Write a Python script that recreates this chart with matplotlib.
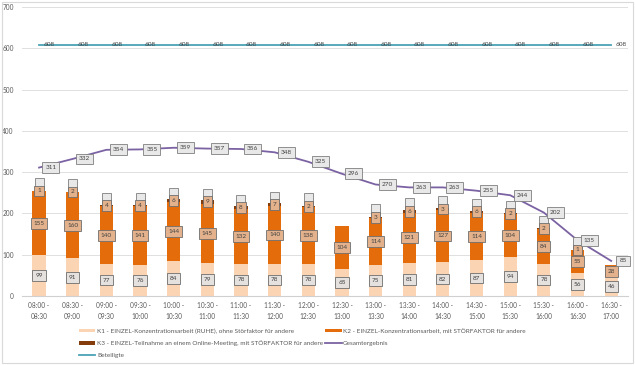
import matplotlib.pyplot as plt
import numpy as np

plt.rcParams["font.family"] = ["Lato", "DejaVu Sans"]

slots = [
    "08:00 -\n08:30", "08:30 -\n09:00", "09:00 -\n09:30", "09:30 -\n10:00",
    "10:00 -\n10:30", "10:30 -\n11:00", "11:00 -\n11:30", "11:30 -\n12:00",
    "12:00 -\n12:30", "12:30 -\n13:00", "13:00 -\n13:30", "13:30 -\n14:00",
    "14:00 -\n14:30", "14:30 -\n15:00", "15:00 -\n15:30", "15:30 -\n16:00",
    "16:00 -\n16:30", "16:30 -\n17:00",
]
k1 = [99, 91, 77, 76, 84, 79, 78, 78, 78, 65, 75, 81, 82, 87, 94, 78, 56, 46]
k2 = [155, 160, 140, 141, 144, 145, 132, 140, 138, 104, 114, 121, 127, 114, 104, 84, 55, 28]
k3 = [1, 2, 4, 4, 6, 9, 8, 7, 2, 0, 3, 6, 3, 6, 2, 2, 1, 0]
gesamt = [311, 332, 354, 355, 359, 357, 356, 348, 325, 296, 270, 263, 263, 255, 244, 202, 135, 85]
beteiligte = [608] * 18

c_k1 = "#FBD4B4"
c_k2 = "#E46C0A"
c_k3 = "#843C0C"
c_ges = "#7B62A3"
c_bet = "#4BA3B5"

fig = plt.figure(figsize=(6.35, 3.65), dpi=100)
ax = fig.add_axes([0.035, 0.189, 0.954, 0.792])

x = np.arange(len(slots))
k1a = np.array(k1)
k2a = np.array(k2)
k3a = np.array(k3)
w = 0.39

ax.bar(x, k1a, w, color=c_k1, zorder=2,
       label="K1 - EINZEL-Konzentrationsarbeit (RUHE), ohne Störfaktor für andere")
ax.bar(x, k2a, w, bottom=k1a, color=c_k2, zorder=2,
       label="K2 - EINZEL-Konzentrationsarbeit, mit STÖRFAKTOR für andere")
ax.bar(x, k3a, w, bottom=k1a + k2a, color=c_k3, zorder=2,
       label="K3 - EINZEL-Teilnahme an einem Online-Meeting, mit STÖRFAKTOR für andere")
ax.plot(x, gesamt, color=c_ges, lw=1.3, zorder=3, label="Gesamtergebnis")
ax.plot(x, beteiligte, color=c_bet, lw=1.3, zorder=3, label="Beteiligte")

box_k1 = dict(boxstyle="square,pad=0.45", fc="#E4E1DF", ec="#6E6E6E", lw=0.6)
box_k2 = dict(boxstyle="square,pad=0.45", fc="#E3B28C", ec="#6E6E6E", lw=0.6)
box_top = dict(boxstyle="square,pad=0.45", fc="#E8E8E8", ec="#7F7F7F", lw=0.6)
txt = dict(fontsize=4.6, color="#404040", ha="center", va="center", zorder=5)

for i in x:
    ax.text(i, k1a[i] / 2, str(k1a[i]), bbox=box_k1, **txt)
    ax.text(i, k1a[i] + k2a[i] / 2, str(k2a[i]), bbox=box_k2, **txt)
    if k3a[i] > 0:
        top = k1a[i] + k2a[i] + k3a[i] / 2
        ax.annotate("  ", (i, top), xytext=(0, 5.5), textcoords="offset points",
                    bbox=box_top, **txt)
        ax.text(i, top, str(k3a[i]), bbox=box_k2, **txt)
    ax.annotate(str(gesamt[i]), (i, gesamt[i]), xytext=(8.5, 0),
                textcoords="offset points", bbox=box_top, **txt)
    ax.annotate(str(beteiligte[i]), (i, beteiligte[i]), xytext=(7.5, 0),
                textcoords="offset points", **txt)

ax.set_xlim(-0.5, len(slots) - 0.5)
ax.set_ylim(0, 700)
ax.set_yticks(range(0, 701, 100))
ax.set_xticks(x)
ax.set_xticklabels(slots, linespacing=1.7)
ax.tick_params(axis="both", length=0, labelsize=4.7, colors="#595959")
ax.tick_params(axis="y", pad=6)
ax.tick_params(axis="x", pad=4)
ax.grid(axis="y", color="#E0E0E0", lw=0.7, zorder=0)
ax.set_axisbelow(True)
for s in ["top", "right", "left"]:
    ax.spines[s].set_visible(False)
ax.spines["bottom"].set_color("#D0D0D0")

h, l = ax.get_legend_handles_labels()
names = [
    "K1 - EINZEL-Konzentrationsarbeit (RUHE), ohne Störfaktor für andere",
    "K3 - EINZEL-Teilnahme an einem Online-Meeting, mit STÖRFAKTOR für andere",
    "Beteiligte",
    "K2 - EINZEL-Konzentrationsarbeit, mit STÖRFAKTOR für andere",
    "Gesamtergebnis",
]
order = [l.index(n) for n in names]
fig.legend([h[j] for j in order], [l[j] for j in order], ncol=2,
           loc="lower left", bbox_to_anchor=(0.115, 0.003), frameon=False,
           fontsize=4.6, labelcolor="#595959", handlelength=2.6,
           handleheight=0.45, columnspacing=0.3, labelspacing=1.05,
           handletextpad=0.25)

fig.patches.append(plt.Rectangle((0.003, 0.005), 0.994, 0.99, transform=fig.transFigure,
                                 fill=False, ec="#D9D9D9", lw=0.8))

fig.savefig("out.png", dpi=100, facecolor="white")
